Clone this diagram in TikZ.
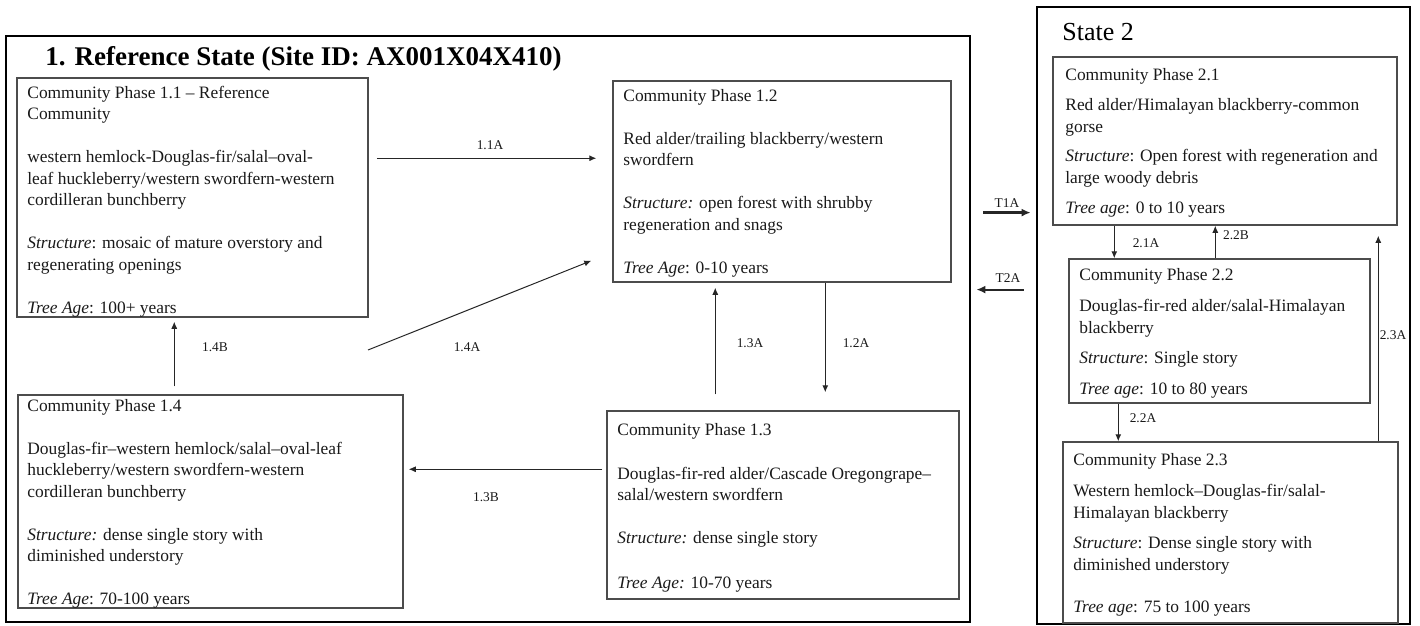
\documentclass[tikz,border=0pt]{standalone}
\usepackage{fontspec}
\setmainfont{Liberation Serif}
\usetikzlibrary{arrows.meta,fit}
\begin{document}
\begin{tikzpicture}[x=0.5pt,y=-0.5pt,
  statebox/.style={draw=black,line width=1.4pt,inner sep=0pt},
  phasebox/.style={draw=black!70,line width=0.75pt,inner sep=0pt},
  phasetext/.style={anchor=north west,inner sep=0pt,align=left,text=black!90,
    font={\fontsize{8.7pt}{10.75pt}\selectfont}},
  lbl/.style={inner sep=0pt,text=black!90,font={\fontsize{6.7pt}{8pt}\selectfont}},
  arr/.style={-{Latex[length=3.5pt,width=3pt]},line width=0.5pt,draw=black!85},
  tarr/.style={-{Latex[length=4.5pt,width=4pt]},line width=1.1pt,draw=black!85}]
\useasboundingbox (0,0) rectangle (1420,626);
% state containers
\node[statebox,fit={(6,36)(970,622)}] (s1) {};
\node[statebox,fit={(1037,7)(1410,624)}] (s2) {};
\node[anchor=base west,inner sep=0pt,font={\fontsize{13.5pt}{15pt}\selectfont\bfseries}] (title1) at (45,66) {1. Reference State (Site ID: AX001X04X410)};
\node[anchor=base west,inner sep=0pt,font={\fontsize{13pt}{15pt}\selectfont}] (title2) at (1062,41) {State 2};
% phase boxes
\node[phasebox,fit={(17,78)(368,317)}] (b11) {};
\node[phasebox,fit={(613,81)(951,282)}] (b12) {};
\node[phasebox,fit={(18,395)(403,608)}] (b14) {};
\node[phasebox,fit={(607,411)(959,599)}] (b13) {};
\node[phasebox,fit={(1053,57)(1397,225)}] (b21) {};
\node[phasebox,fit={(1069,259)(1370,403)}] (b22) {};
\node[phasebox,fit={(1063,442)(1398,623)}] (b23) {};
% phase texts
\node[phasetext] (t11) at (27,83) {\strut Community Phase 1.1 – Reference\\
Community\\[10.75pt]
western hemlock-Douglas-fir/salal–oval-\\
leaf huckleberry/western swordfern-western\\
cordilleran bunchberry\\[10.75pt]
\textit{Structure}: mosaic of mature overstory and\\
regenerating openings\\[10.75pt]
\textit{Tree Age}: 100+ years};
\node[phasetext] (t12) at (623,86) {\strut Community Phase 1.2\\[10.75pt]
Red alder/trailing blackberry/western\\
swordfern\\[10.75pt]
\textit{Structure:} open forest with shrubby\\
regeneration and snags\\[10.75pt]
\textit{Tree Age}: 0-10 years};
\node[phasetext] (t14) at (27,396) {\strut Community Phase 1.4\\[10.75pt]
Douglas-fir–western hemlock/salal–oval-leaf\\
huckleberry/western swordfern-western\\
cordilleran bunchberry\\[10.75pt]
\textit{Structure:} dense single story with\\
diminished understory\\[10.75pt]
\textit{Tree Age}: 70-100 years};
\node[phasetext] (t13) at (617,420) {\strut Community Phase 1.3\\[11.2pt]
Douglas-fir-red alder/Cascade Oregongrape–\\
salal/western swordfern\\[10.75pt]
\textit{Structure:} dense single story\\[11.5pt]
\textit{Tree Age:} 10-70 years};
\node[phasetext] (t21) at (1065,65) {\strut Community Phase 2.1\\[4.5pt]
Red alder/Himalayan blackberry-common\\
gorse\\[4pt]
\textit{Structure}: Open forest with regeneration and\\
large woody debris\\[4.25pt]
\textit{Tree age}: 0 to 10 years};
\node[phasetext] (t22) at (1079,265) {\strut Community Phase 2.2\\[5pt]
Douglas-fir-red alder/salal-Himalayan\\
blackberry\\[4.5pt]
\textit{Structure}: Single story\\[4.75pt]
\textit{Tree age}: 10 to 80 years};
\node[phasetext] (t23) at (1073,450) {\strut Community Phase 2.3\\[5pt]
Western hemlock–Douglas-fir/salal-\\
Himalayan blackberry\\[4.5pt]
\textit{Structure}: Dense single story with\\
diminished understory\\[10.25pt]
\textit{Tree age}: 75 to 100 years};
% free end of 1.4A
\coordinate (c14A) at (368,350);
% transitions inside state 1
\draw[arr] ([xshift=4pt,yshift=-40.5pt]b11.north east) -- ([xshift=-8pt,yshift=-39pt]b12.north west);
\draw[arr] (c14A) -- ([xshift=-10.5pt,yshift=11pt]b12.south west);
\draw[arr] ([xshift=78.5pt,yshift=4pt]b14.north west) -- ([xshift=79pt,yshift=-2pt]b11.south west);
\draw[arr] ([xshift=54.5pt,yshift=8pt]b13.north west) -- ([xshift=51.5pt,yshift=-2.5pt]b12.south west);
\draw[arr] ([xshift=106.5pt]b12.south west) -- ([xshift=109.5pt,yshift=9pt]b13.north west);
\draw[arr] ([xshift=-2pt,yshift=-29.5pt]b13.north west) -- ([xshift=2.5pt,yshift=-37.5pt]b14.north east);
% transitions between states
\draw[tarr] ([xshift=6pt,yshift=-89pt]s1.north east) -- ([xshift=-2.5pt,yshift=-103.5pt]s2.north west);
\draw[tarr] ([xshift=-6pt,yshift=-142pt]s2.north west) -- ([xshift=2.5pt,yshift=-127.5pt]s1.north east);
% transitions inside state 2
\draw[arr] ([xshift=31pt]b21.south west) -- ([xshift=23pt]b22.north west);
\draw[arr] ([xshift=73.5pt]b22.north west) -- ([xshift=81.5pt]b21.south west);
\draw[arr] ([xshift=25pt]b22.south west) -- ([xshift=28pt]b23.north west);
\draw[arr] ([xshift=158pt]b23.north west) -- ([xshift=163pt,yshift=-5pt]b21.south west);
% labels
\node[lbl] (l11A) at (490,145) {1.1A};
\node[lbl] (l14A) at (467,347) {1.4A};
\node[lbl] (l14B) at (215,347) {1.4B};
\node[lbl] (l13A) at (750,343) {1.3A};
\node[lbl] (l12A) at (856,343) {1.2A};
\node[lbl] (l13B) at (486,497) {1.3B};
\node[lbl] (lT1A) at (1007,203) {T1A};
\node[lbl] (lT2A) at (1008,278) {T2A};
\node[lbl] (l21A) at (1146,243) {2.1A};
\node[lbl] (l22B) at (1236,235) {2.2B};
\node[lbl] (l22A) at (1143,418) {2.2A};
\node[lbl] (l23A) at (1393,335) {2.3A};
\end{tikzpicture}
\end{document}
